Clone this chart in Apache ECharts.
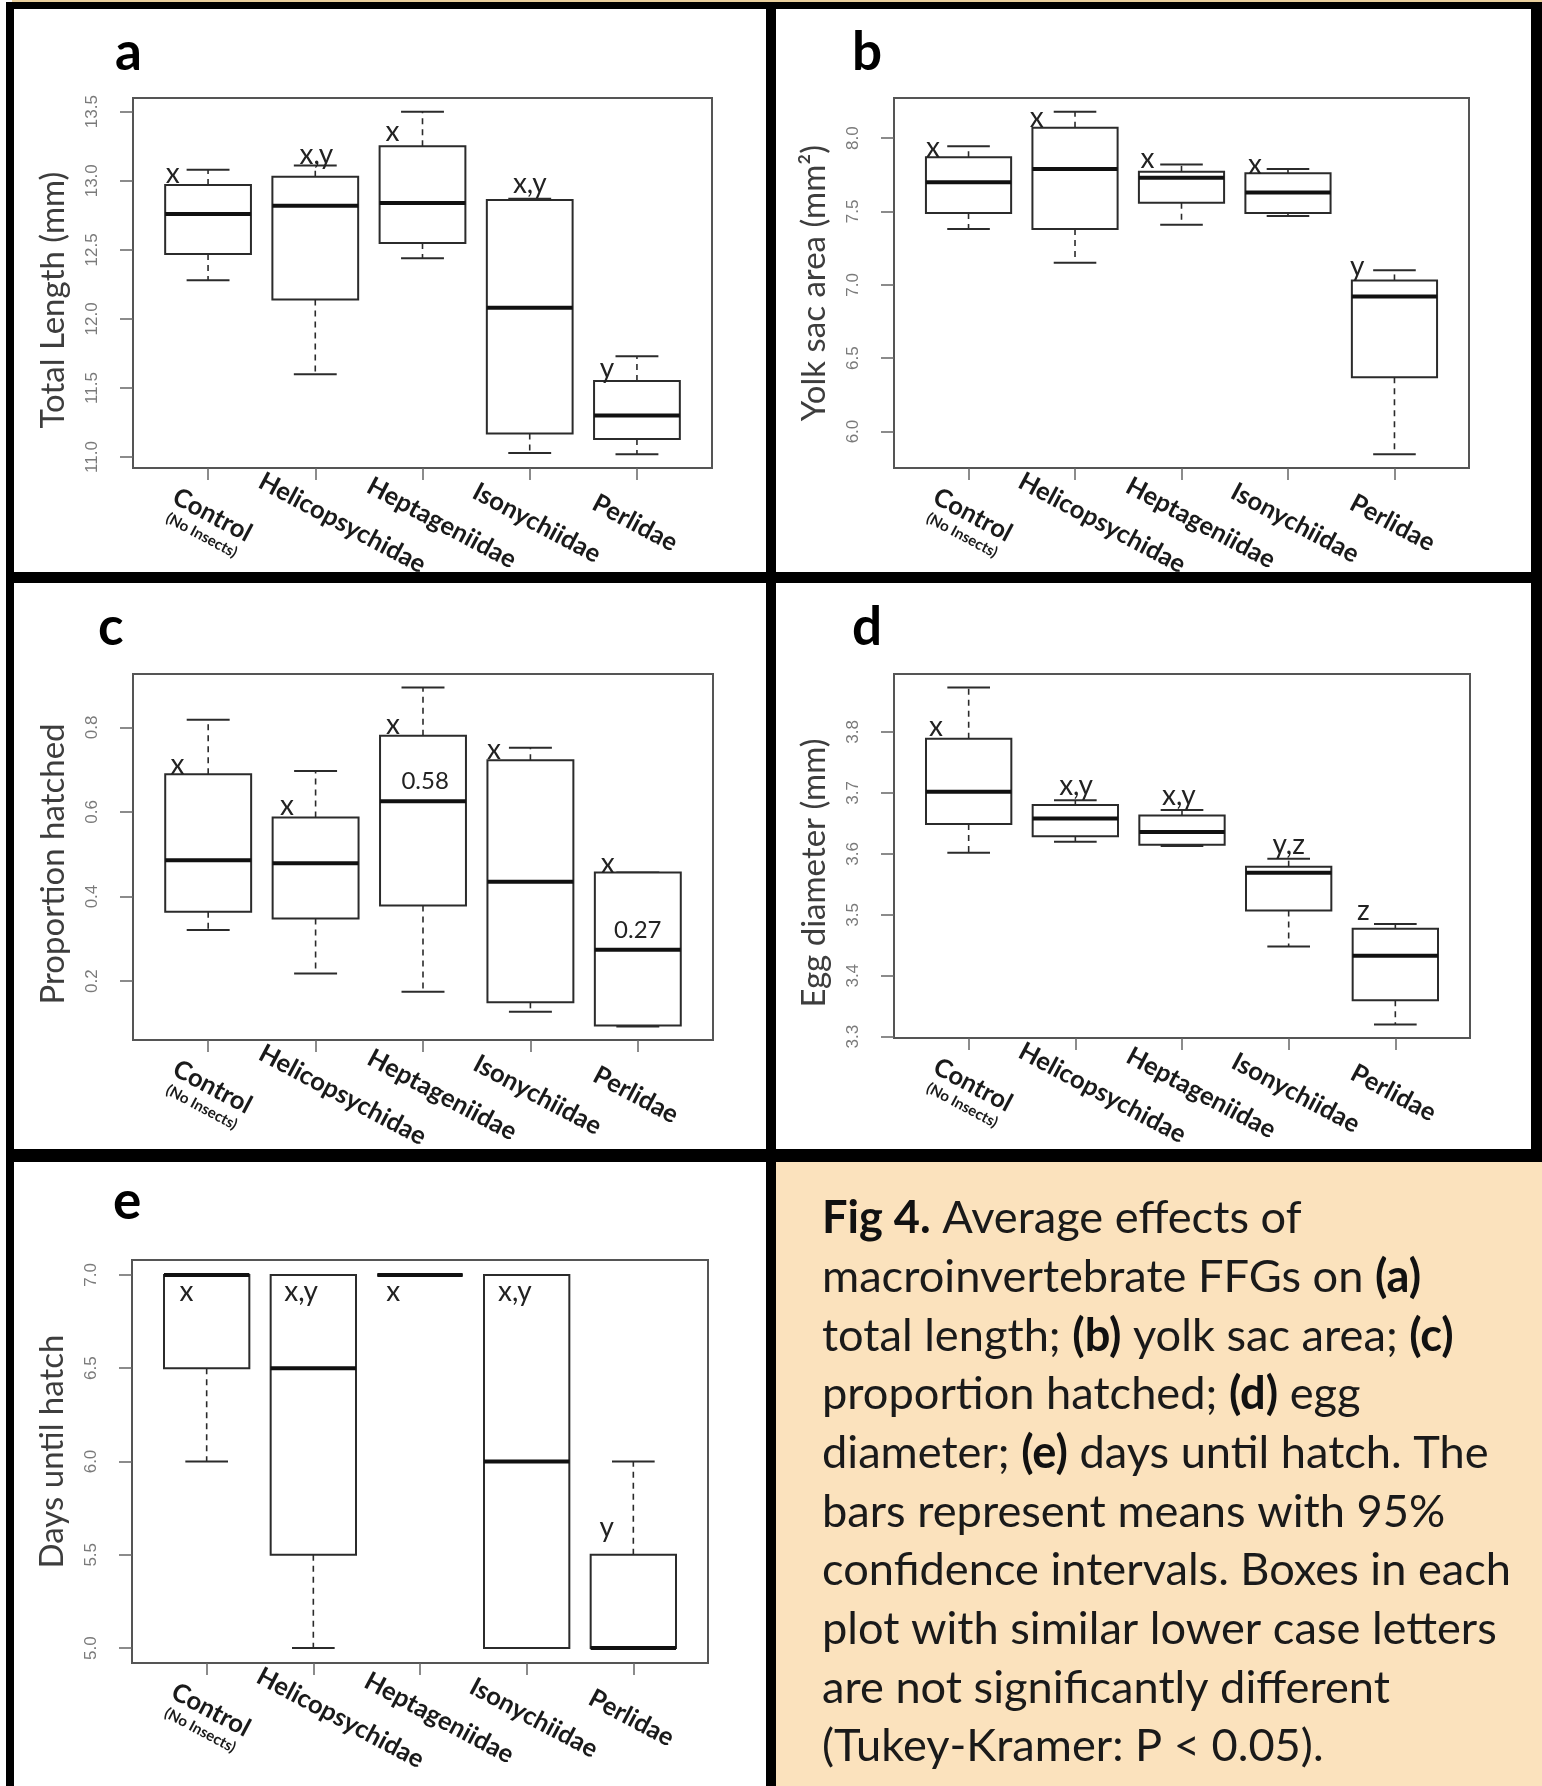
<!DOCTYPE html>
<html><head><meta charset="utf-8">
<script src="https://cdn.jsdelivr.net/npm/echarts@6.0.0/dist/echarts.min.js"></script>
<style>html,body{margin:0;padding:0;background:#fff}#main{width:1542px;height:1786px}</style>
</head><body><div id="main"></div>
<script>
// ---------------- DATA ----------------
const categories = ['Control', 'Helicopsychidae', 'Heptageniidae', 'Isonychiidae', 'Perlidae'];
// each row: [lower whisker, Q1, median, Q3, upper whisker]
const totalLength = [[12.28,12.47,12.76,12.97,13.08],[11.60,12.14,12.82,13.03,13.11],[12.44,12.55,12.84,13.25,13.50],[11.03,11.17,12.08,12.86,12.87],[11.02,11.13,11.30,11.55,11.73]];
const yolkSacArea = [[7.38,7.49,7.70,7.87,7.945],[7.15,7.38,7.79,8.07,8.18],[7.41,7.56,7.73,7.77,7.82],[7.47,7.49,7.63,7.76,7.79],[5.845,6.37,6.92,7.03,7.10]];
const proportionHatched = [[0.321,0.364,0.486,0.689,0.818],[0.218,0.348,0.479,0.587,0.697],[0.175,0.379,0.625,0.780,0.894],[0.128,0.150,0.435,0.722,0.752],[0.093,0.095,0.274,0.457,0.457]];
const eggDiameter = [[3.602,3.649,3.702,3.789,3.873],[3.620,3.629,3.658,3.680,3.688],[3.613,3.615,3.636,3.663,3.672],[3.448,3.507,3.569,3.579,3.592],[3.320,3.360,3.433,3.477,3.485]];
const daysUntilHatch = [[6,6.5,7,7,7],[5,5.5,6.5,7,7],[7,7,7,7,7],[5,5,6,7,7],[5,5,5,5.5,6]];

const ticksA = [11.0, 11.5, 12.0, 12.5, 13.0, 13.5];
const ticksB = [6.0, 6.5, 7.0, 7.5, 8.0];
const ticksC = [0.2, 0.4, 0.6, 0.8];
const ticksD = [3.3, 3.4, 3.5, 3.6, 3.7, 3.8];
const ticksE = [5.0, 5.5, 6.0, 6.5, 7.0];

const yTitles = ['Total Length (mm)', 'Yolk sac area (mm\u00B2)', 'Proportion hatched', 'Egg diameter (mm)', 'Days until hatch'];
const panelTags = ['a', 'b', 'c', 'd', 'e'];

// significance letters: [text, x (category units), y (data units)]
const lettersA = [['x',0.67,13.05],['x,y',2.01,13.19],['x',2.72,13.35],['x,y',4.0,12.98],['y',4.72,11.64]];
const lettersB = [['x',0.665,7.93],['x',1.64,8.14],['x',2.68,7.86],['x',3.69,7.82],['y',4.65,7.12]];
const lettersC = [['x',0.715,0.711],['x',1.734,0.615],['x',2.72,0.805],['x',3.66,0.747],['x',4.72,0.476]];
const lettersD = [['x',0.694,3.808],['x,y',2.006,3.711],['x,y',2.97,3.695],['y,z',4.0,3.615],['z',4.70,3.507]];
const lettersE = [['x',0.81,6.907],['x,y',1.885,6.907],['x',2.75,6.907],['x,y',3.89,6.907],['y',4.75,5.646]];
const medianNotesC = [['0.58',3.02,0.673],['0.27',5.0,0.321]];

const captionLines = [
  '{b|Fig 4.} Average effects of',
  'macroinvertebrate FFGs on {b|(a)}',
  'total length; {b|(b)} yolk sac area; {b|(c)}',
  'proportion hatched; {b|(d)} egg',
  'diameter; {b|(e)} days until hatch. The',
  'bars represent means with 95%',
  'confidence intervals. Boxes in each',
  'plot with similar lower case letters',
  'are not significantly different',
  '(Tukey-Kramer: P < 0.05).'
];

const panelData = [totalLength, yolkSacArea, proportionHatched, eggDiameter, daysUntilHatch];
const panelTicks = [ticksA, ticksB, ticksC, ticksD, ticksE];
const panelLetters = [lettersA, lettersB, lettersC, lettersD, lettersE];
const panelNotes = [[], [], medianNotesC, [], []];

// ---------------- LAYOUT / STYLE ----------------
const grids = [
  {left:133, top:98, width:579, height:370},
  {left:894, top:98, width:575, height:370},
  {left:133, top:674, width:580, height:366},
  {left:894, top:674, width:576, height:364},
  {left:132, top:1260, width:576, height:403}
];
const tagPos = [[115,53],[852,53],[98,628],[852,628],[113,1202]];
const titleShift = [17, 0, 7, 17, -10];
const labelShift = [0, 27, 19, 7, -2];
const ROT = 28;
const TICK_LABEL_OFFSET = 41;
const lineCol = '#2b2b2b';

function rRange(rows){
  let lo = Infinity, hi = -Infinity;
  rows.forEach(r => { lo = Math.min(lo, ...r); hi = Math.max(hi, ...r); });
  const pad = (hi - lo) * 0.04;
  return [lo - pad, hi + pad];
}
const nCat = categories.length;
const xMin = 0.5 - 0.04 * nCat, xMax = nCat + 0.5 + 0.04 * nCat;
const catTicks = categories.map((c, i) => i + 1);

const rich = {
  sub: {fontFamily:'Lato', fontWeight:'bold', fontSize:15, color:'#1a1a1a', lineHeight:18}
};
const th = ROT * Math.PI / 180;
categories.forEach((c, i) => {
  const s = labelShift[i];
  const along = Math.abs(s) * Math.cos(th) * 2, perp = Math.abs(s) * Math.sin(th) * 2;
  const pad = s >= 0 ? [0, 0, perp, along] : [perp, along, 0, 0];
  rich['c' + i] = {fontFamily:'Lato', fontWeight:'bold', fontSize:25.5, color:'#1a1a1a', lineHeight:28, padding:pad};
});
function catLabel(v){
  const i = Math.round(v) - 1;
  if (i === 0) return '{c0|' + categories[0] + '}\n{sub|(No Insects)}';
  return '{c' + i + '|' + categories[i] + '}';
}

function renderBox(params, api){
  const x = api.value(0);
  const lo = api.coord([x, api.value(1)]);
  const q1 = api.coord([x, api.value(2)]);
  const md = api.coord([x, api.value(3)]);
  const q3 = api.coord([x, api.value(4)]);
  const hi = api.coord([x, api.value(5)]);
  const bw = api.size([0.8, 0])[0];
  const cw = bw / 2;
  const cx = lo[0];
  const dashed = {stroke:lineCol, lineWidth:1.6, lineDash:[6,5]};
  const solid = {stroke:lineCol, lineWidth:2};
  return {type:'group', children:[
    {type:'line', shape:{x1:cx, y1:q3[1], x2:cx, y2:hi[1]}, style:dashed},
    {type:'line', shape:{x1:cx, y1:q1[1], x2:cx, y2:lo[1]}, style:dashed},
    {type:'line', shape:{x1:cx-cw/2, y1:hi[1], x2:cx+cw/2, y2:hi[1]}, style:solid},
    {type:'line', shape:{x1:cx-cw/2, y1:lo[1], x2:cx+cw/2, y2:lo[1]}, style:solid},
    {type:'rect', shape:{x:cx-bw/2, y:q3[1], width:bw, height:q1[1]-q3[1]}, style:{stroke:lineCol, lineWidth:2, fill:'#fff'}},
    {type:'line', shape:{x1:cx-bw/2, y1:md[1], x2:cx+bw/2, y2:md[1]}, style:{stroke:'#111', lineWidth:4}}
  ]};
}
function textRenderer(list, font){
  return function(params, api){
    const p = api.coord([api.value(0), api.value(1)]);
    return {type:'text', x:p[0], y:p[1], style:{text:list[params.dataIndex][0], font:font, fill:'#222', align:'center', verticalAlign:'middle'}};
  };
}
function tickLabelRenderer(params, api){
  const v = api.value(1);
  const p = api.coord([api.value(0), v]);
  return {type:'text', x:p[0] - TICK_LABEL_OFFSET, y:p[1], rotation:Math.PI/2,
    style:{text:Number(v).toFixed(1), font:'17px "Liberation Sans"', fill:'#7a7a7a', align:'center', verticalAlign:'middle'}};
}

const option = {animation:false, backgroundColor:'#fff', grid:[], xAxis:[], yAxis:[], series:[], graphic:[]};

panelData.forEach((rows, i) => {
  const g = grids[i];
  const [ymin, ymax] = rRange(rows);
  const ts = titleShift[i];
  option.grid.push({left:g.left, top:g.top, width:g.width, height:g.height, show:true, borderColor:'#555', borderWidth:2, backgroundColor:'transparent', containLabel:false, outerBoundsMode:'none'});
  option.xAxis.push({gridIndex:i, type:'value', min:xMin, max:xMax,
    axisLine:{show:false}, splitLine:{show:false},
    axisTick:{show:true, customValues:catTicks, length:12, lineStyle:{color:'#666', width:1.5}},
    axisLabel:{show:true, customValues:catTicks, formatter:catLabel, rotate:-ROT, align:'center', verticalAlign:'middle', margin:55, rich:rich}
  });
  option.yAxis.push({gridIndex:i, type:'value', min:ymin, max:ymax,
    axisLine:{show:false}, splitLine:{show:false},
    axisTick:{show:true, customValues:panelTicks[i], length:13, lineStyle:{color:'#666', width:1.5}},
    axisLabel:{show:false},
    name:yTitles[i], nameLocation:'middle', nameRotate:90, nameGap:63,
    nameTextStyle:{fontFamily:'Lato', fontSize:33, color:'#3d3d3d', padding: ts >= 0 ? [0, 2*ts, 0, 0] : [0, 0, 0, -2*ts]}
  });
  option.series.push({type:'custom', coordinateSystem:'cartesian2d', xAxisIndex:i, yAxisIndex:i, silent:true, clip:false,
    renderItem:renderBox, encode:{x:0, y:[1,2,3,4,5]},
    data:rows.map((r, k) => [k + 1].concat(r))});
  option.series.push({type:'custom', coordinateSystem:'cartesian2d', xAxisIndex:i, yAxisIndex:i, silent:true, clip:false,
    renderItem:tickLabelRenderer, encode:{x:0, y:1},
    data:panelTicks[i].map(t => [xMin, t])});
  option.series.push({type:'custom', coordinateSystem:'cartesian2d', xAxisIndex:i, yAxisIndex:i, silent:true, clip:false,
    renderItem:textRenderer(panelLetters[i], '28px Lato'), encode:{x:0, y:1},
    data:panelLetters[i].map(l => [l[1], l[2]])});
  if (panelNotes[i].length) {
    option.series.push({type:'custom', coordinateSystem:'cartesian2d', xAxisIndex:i, yAxisIndex:i, silent:true, clip:false,
      renderItem:textRenderer(panelNotes[i], '24px Lato'), encode:{x:0, y:1},
      data:panelNotes[i].map(l => [l[1], l[2]])});
  }
  option.graphic.push({type:'text', x:tagPos[i][0], y:tagPos[i][1], z:10,
    style:{text:panelTags[i], font:'bold 53px Lato', fill:'#000', verticalAlign:'middle'}});
});

// caption box
const ctx = document.createElement('canvas').getContext('2d');
ctx.font = '40px Lato';
const capW = ctx.measureText('confidence intervals. Boxes in each').width;
const capSize = Math.round(40 * 689 / capW * 10) / 10;
const capLH = 58.7;
option.graphic.push({type:'rect', shape:{x:776, y:1162, width:766, height:624}, style:{fill:'#FBE2BD'}, z:1});
option.graphic.push({type:'text', x:822, y:1233 - capLH/2 - capSize*0.32, z:10,
  style:{text:captionLines.join('\n'), fontFamily:'Lato', fontSize:capSize, fill:'#1a1a1a', lineHeight:capLH, verticalAlign:'top',
    rich:{b:{fontFamily:'Lato', fontWeight:'bold', fontSize:capSize, fill:'#111', lineHeight:capLH}}}});
// panel frames
const bands = [[6,2,1536,7],[6,2,8,1784],[766,2,10,1784],[1531,2,11,1160],[6,572,1536,11],[6,1149,1536,13]];
option.graphic.push({type:'rect', shape:{x:12, y:0, width:1530, height:2}, style:{fill:'#e9cf9c'}, z:5});
bands.forEach(b => option.graphic.push({type:'rect', shape:{x:b[0], y:b[1], width:b[2], height:b[3]}, style:{fill:'#000'}, z:5}));

const chart = echarts.init(document.getElementById('main'));
chart.setOption(option);
</script></body></html>
